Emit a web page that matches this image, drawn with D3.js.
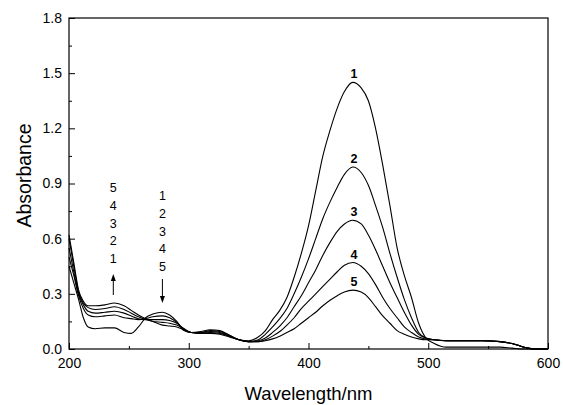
<!DOCTYPE html>
<html>
<head>
<meta charset="utf-8">
<script src="https://cdn.jsdelivr.net/npm/d3@7"></script>
<style>
  body { margin: 0; background: #fff; }
  svg { display: block; font-family: Arial, "Liberation Sans", sans-serif; }
  .curve { fill: none; stroke: #000; stroke-width: 1.1; }
</style>
</head>
<body>
<svg width="563" height="405"></svg>
<script>
// wavelength grid (nm) shared by all spectra
const wavelength = [200, 204, 208, 212, 216, 222, 230, 238, 246, 252, 258, 264, 270, 278, 284, 290, 296, 302, 310, 318, 326, 334, 342, 350, 358, 364, 370, 376, 382, 388, 394, 400, 406, 412, 418, 424, 430, 437, 444, 450, 456, 462, 468, 474, 480, 486, 492, 498, 505, 515, 530, 545, 560, 570, 580, 590, 600];

const curve1 = [0.45, 0.36, 0.27, 0.17, 0.12, 0.11, 0.115, 0.115, 0.09, 0.085, 0.12, 0.17, 0.19, 0.20, 0.185, 0.15, 0.10, 0.09, 0.095, 0.105, 0.10, 0.075, 0.05, 0.045, 0.065, 0.10, 0.16, 0.21, 0.28, 0.39, 0.52, 0.67, 0.86, 1.05, 1.19, 1.31, 1.40, 1.45, 1.42, 1.35, 1.20, 1.00, 0.78, 0.55, 0.40, 0.28, 0.14, 0.06, 0.03, 0.01, 0.01, 0.01, 0.01, 0.005, 0, 0, 0];
const curve2 = [0.50, 0.40, 0.29, 0.22, 0.185, 0.175, 0.18, 0.185, 0.17, 0.165, 0.16, 0.165, 0.175, 0.18, 0.17, 0.145, 0.105, 0.09, 0.09, 0.10, 0.095, 0.075, 0.05, 0.04, 0.05, 0.08, 0.12, 0.165, 0.22, 0.30, 0.39, 0.49, 0.60, 0.71, 0.80, 0.88, 0.95, 0.99, 0.96, 0.89, 0.78, 0.66, 0.52, 0.39, 0.27, 0.17, 0.09, 0.06, 0.05, 0.045, 0.045, 0.045, 0.04, 0.03, 0.01, 0, 0];
const curve3 = [0.55, 0.42, 0.30, 0.24, 0.205, 0.195, 0.20, 0.205, 0.195, 0.18, 0.165, 0.16, 0.16, 0.16, 0.155, 0.14, 0.11, 0.09, 0.09, 0.095, 0.09, 0.07, 0.05, 0.04, 0.045, 0.06, 0.09, 0.125, 0.17, 0.23, 0.29, 0.36, 0.43, 0.51, 0.58, 0.64, 0.68, 0.70, 0.68, 0.62, 0.54, 0.45, 0.36, 0.28, 0.20, 0.13, 0.08, 0.06, 0.05, 0.045, 0.045, 0.045, 0.04, 0.03, 0.01, 0, 0];
const curve4 = [0.60, 0.45, 0.31, 0.25, 0.225, 0.215, 0.22, 0.23, 0.215, 0.195, 0.175, 0.16, 0.15, 0.145, 0.14, 0.13, 0.11, 0.09, 0.085, 0.09, 0.085, 0.07, 0.05, 0.04, 0.04, 0.05, 0.07, 0.095, 0.13, 0.17, 0.22, 0.26, 0.30, 0.34, 0.38, 0.42, 0.455, 0.47, 0.45, 0.41, 0.35, 0.28, 0.22, 0.17, 0.12, 0.09, 0.065, 0.055, 0.05, 0.045, 0.045, 0.045, 0.04, 0.03, 0.01, 0, 0];
const curve5 = [0.62, 0.47, 0.32, 0.26, 0.235, 0.235, 0.24, 0.25, 0.235, 0.21, 0.185, 0.165, 0.15, 0.13, 0.125, 0.12, 0.105, 0.09, 0.085, 0.085, 0.08, 0.065, 0.05, 0.04, 0.04, 0.045, 0.055, 0.07, 0.09, 0.11, 0.14, 0.17, 0.20, 0.235, 0.265, 0.29, 0.31, 0.32, 0.31, 0.28, 0.23, 0.18, 0.14, 0.10, 0.08, 0.065, 0.055, 0.05, 0.05, 0.045, 0.045, 0.045, 0.04, 0.03, 0.01, 0, 0];

const curveNames = ['1', '2', '3', '4', '5'];
const xTicks = [200, 300, 400, 500, 600];
const xMinor = [250, 350, 450, 550];
const yTicks = [0, 0.3, 0.6, 0.9, 1.2, 1.5, 1.8];
const yMinor = [0.15, 0.45, 0.75, 1.05, 1.35, 1.65];
// labels next to the arrows in the UV region
const upLabels = ['5', '4', '3', '2', '1'];
const downLabels = ['1', '2', '3', '4', '5'];

const series = [curve1, curve2, curve3, curve4, curve5];

const plotLeft = 69, plotRight = 548, plotTop = 18, plotBottom = 349;
const svg = d3.select('svg');

const x = d3.scaleLinear().domain([200, 600]).range([plotLeft, plotRight]);
const y = d3.scaleLinear().domain([0, 1.8]).range([plotBottom, plotTop]);

// frame
svg.append('rect')
  .attr('x', plotLeft).attr('y', plotTop)
  .attr('width', plotRight - plotLeft).attr('height', plotBottom - plotTop)
  .attr('fill', 'none').attr('stroke', '#000').attr('stroke-width', 1.2);

// bottom axis, ticks pointing inwards
svg.append('g')
  .attr('transform', `translate(0,${plotBottom})`)
  .call(d3.axisBottom(x).tickValues(xTicks).tickSize(-6).tickPadding(9).tickFormat(d3.format('d')));
svg.append('g')
  .attr('transform', `translate(0,${plotBottom})`)
  .call(d3.axisBottom(x).tickValues(xMinor).tickSize(-3).tickFormat(''));

// left axis
const yAxis = svg.append('g')
  .attr('transform', `translate(${plotLeft},0)`)
  .call(d3.axisLeft(y).tickValues(yTicks).tickSize(-6).tickPadding(7).tickFormat(d3.format('.1f')));
svg.append('g')
  .attr('transform', `translate(${plotLeft},0)`)
  .call(d3.axisLeft(y).tickValues(yMinor).tickSize(-3).tickFormat(''));

svg.selectAll('.domain').remove();
svg.selectAll('.tick line').attr('stroke', '#000');
svg.selectAll('.tick text')
  .attr('fill', '#000')
  .style('font-size', '14px')
  .style('font-family', 'Arial, "Liberation Sans", sans-serif');
yAxis.selectAll('.tick text').attr('x', -7);

// spectra
const line = d3.line()
  .x((d, i) => x(wavelength[i]))
  .y(d => y(d))
  .curve(d3.curveMonotoneX);

svg.selectAll('.curve')
  .data(series)
  .enter()
  .append('path')
  .attr('class', 'curve')
  .attr('d', line);

// numbers over the visible band
const peakIdx = wavelength.indexOf(437);
svg.selectAll('.peak-label')
  .data(series)
  .enter()
  .append('text')
  .attr('x', x(438))
  .attr('y', d => y(d[peakIdx]) - 4)
  .attr('text-anchor', 'middle')
  .style('font-size', '12.5px')
  .style('font-weight', 'bold')
  .text((d, i) => curveNames[i]);

// UV annotations
const upX = x(237), downX = x(278);
svg.selectAll('.up-label')
  .data(upLabels)
  .enter()
  .append('text')
  .attr('x', upX)
  .attr('y', (d, i) => 192 + i * 17.8)
  .attr('text-anchor', 'middle')
  .style('font-size', '12.5px')
  .text(d => d);

svg.selectAll('.down-label')
  .data(downLabels)
  .enter()
  .append('text')
  .attr('x', downX)
  .attr('y', (d, i) => 200 + i * 17.8)
  .attr('text-anchor', 'middle')
  .style('font-size', '12.5px')
  .text(d => d);

svg.append('line')
  .attr('x1', upX).attr('x2', upX)
  .attr('y1', 295).attr('y2', 279)
  .attr('stroke', '#000').attr('stroke-width', 1);
svg.append('path')
  .attr('d', `M${upX},274 L${upX - 2.5},281 L${upX + 2.5},281 Z`)
  .attr('fill', '#000');

svg.append('line')
  .attr('x1', downX).attr('x2', downX)
  .attr('y1', 279).attr('y2', 298)
  .attr('stroke', '#000').attr('stroke-width', 1);
svg.append('path')
  .attr('d', `M${downX},303 L${downX - 2.5},296 L${downX + 2.5},296 Z`)
  .attr('fill', '#000');

// axis titles
svg.append('text')
  .attr('x', (plotLeft + plotRight) / 2)
  .attr('y', 400)
  .attr('text-anchor', 'middle')
  .style('font-size', '18.5px')
  .text('Wavelength/nm');

svg.append('text')
  .attr('transform', `translate(31,${(plotTop + plotBottom) / 2 - 8}) rotate(-90)`)
  .attr('text-anchor', 'middle')
  .style('font-size', '19.5px')
  .text('Absorbance');
</script>
</body>
</html>
